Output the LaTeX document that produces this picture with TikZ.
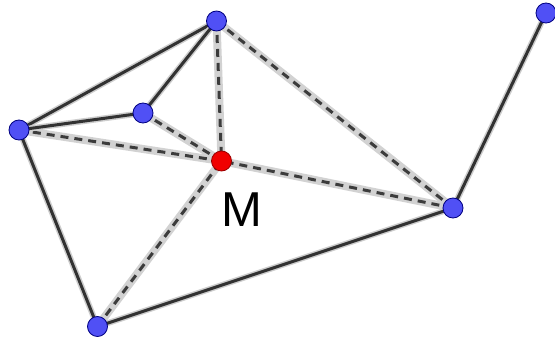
\documentclass[tikz,border=0pt]{standalone}
\usepackage{fontspec}
\setmainfont{Liberation Sans}
\begin{document}
\begin{tikzpicture}[x=1pt,y=-1pt,
  pt/.style={circle,draw=blue!50!black,line width=0.8pt,fill={rgb,255:red,80;green,80;blue,245},minimum size=20pt,inner sep=0pt},
  mpt/.style={circle,draw=red!60!black,line width=0.8pt,fill={rgb,255:red,240;green,0;blue,0},minimum size=20pt,inner sep=0pt},
  seg/.style={draw={rgb,255:red,50;green,50;blue,50},line width=3pt,preaction={draw={rgb,255:red,205;green,205;blue,205},line width=6pt}},
  dseg/.style={draw={rgb,255:red,60;green,60;blue,60},line width=3pt,dash pattern=on 8pt off 6pt,preaction={draw={rgb,255:red,210;green,210;blue,210},line width=8pt,solid}}
]
\useasboundingbox (0,0) rectangle (555,343);
\coordinate (a) at (216.5,21);
\coordinate (b) at (143,113);
\coordinate (c) at (19,130);
\coordinate (m) at (221.5,161);
\coordinate (d) at (453,208);
\coordinate (e) at (97.5,326.5);
\coordinate (f) at (546,13);
\draw[dseg] (a) -- (m);
\draw[dseg] (b) -- (m);
\draw[dseg] (c) -- (m);
\draw[dseg] (e) -- (m);
\draw[dseg] (d) -- (m);
\draw[dseg] (a) -- (d);
\draw[seg] (a) -- (c);
\draw[seg] (a) -- (b);
\draw[seg] (b) -- (c);
\draw[seg] (c) -- (e);
\draw[seg] (e) -- (d);
\draw[seg] (d) -- (f);
\node[pt] (A) at (a) {};
\node[pt] (B) at (b) {};
\node[pt] (C) at (c) {};
\node[pt] (D) at (d) {};
\node[pt] (E) at (e) {};
\node[pt] (F) at (f) {};
\node[mpt] (M) at (m) {};
\node[font=\fontsize{49}{49}\selectfont,inner sep=0pt,anchor=base] (ML) at (242,226) {M};
\end{tikzpicture}
\end{document}
